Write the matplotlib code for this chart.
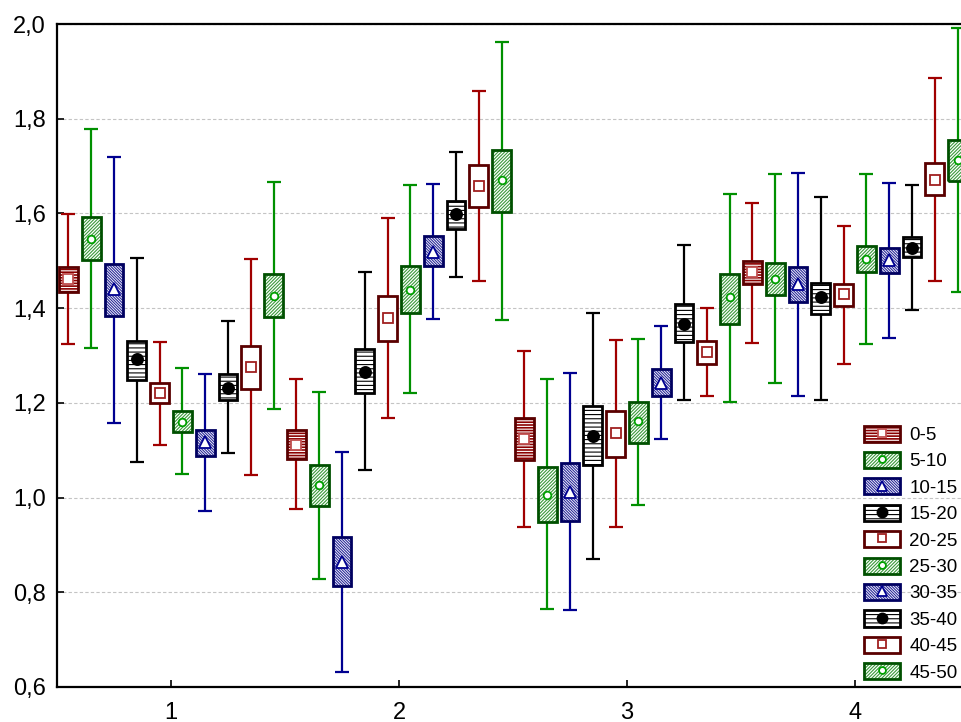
import numpy as np
import matplotlib.pyplot as plt
from matplotlib.patches import Patch
from matplotlib.lines import Line2D
from matplotlib.legend_handler import HandlerTuple
from matplotlib.ticker import FuncFormatter

plt.rcParams['font.family'] = ['Liberation Sans', 'DejaVu Sans']
plt.rcParams['hatch.linewidth'] = 0.8

# data
groups = [1, 2, 3, 4]
series = ['0-5', '5-10', '10-15', '15-20', '20-25',
          '25-30', '30-35', '35-40', '40-45', '45-50']

means = [
    [1.461, 1.111, 1.123, 1.477],
    [1.547, 1.026, 1.005, 1.461],
    [1.440, 0.864, 1.012, 1.450],
    [1.292, 1.266, 1.131, 1.423],
    [1.221, 1.380, 1.136, 1.430],
    [1.160, 1.438, 1.162, 1.503],
    [1.117, 1.519, 1.241, 1.502],
    [1.232, 1.599, 1.367, 1.528],
    [1.275, 1.658, 1.308, 1.671],
    [1.426, 1.671, 1.423, 1.713],
]
box_hi = [
    [1.487, 1.143, 1.169, 1.499],
    [1.593, 1.069, 1.065, 1.496],
    [1.493, 0.916, 1.074, 1.487],
    [1.331, 1.314, 1.194, 1.454],
    [1.242, 1.426, 1.183, 1.452],
    [1.183, 1.489, 1.202, 1.531],
    [1.143, 1.552, 1.272, 1.528],
    [1.260, 1.627, 1.409, 1.550],
    [1.321, 1.703, 1.330, 1.706],
    [1.473, 1.734, 1.473, 1.756],
]
box_lo = [
    [1.434, 1.081, 1.079, 1.451],
    [1.502, 0.982, 0.948, 1.427],
    [1.384, 0.813, 0.951, 1.414],
    [1.248, 1.220, 1.069, 1.387],
    [1.200, 1.331, 1.086, 1.405],
    [1.138, 1.390, 1.116, 1.476],
    [1.088, 1.490, 1.214, 1.475],
    [1.206, 1.567, 1.329, 1.507],
    [1.230, 1.614, 1.283, 1.638],
    [1.382, 1.603, 1.367, 1.669],
]
wh_hi = [
    [1.598, 1.250, 1.310, 1.623],
    [1.778, 1.222, 1.250, 1.683],
    [1.719, 1.096, 1.264, 1.686],
    [1.505, 1.476, 1.390, 1.635],
    [1.329, 1.590, 1.333, 1.573],
    [1.274, 1.660, 1.335, 1.683],
    [1.260, 1.662, 1.363, 1.665],
    [1.373, 1.730, 1.533, 1.659],
    [1.504, 1.859, 1.400, 1.886],
    [1.667, 1.961, 1.640, 1.992],
]
wh_lo = [
    [1.324, 0.975, 0.938, 1.327],
    [1.316, 0.829, 0.764, 1.242],
    [1.157, 0.632, 0.762, 1.215],
    [1.075, 1.058, 0.871, 1.206],
    [1.112, 1.167, 0.938, 1.283],
    [1.050, 1.220, 0.984, 1.325],
    [0.972, 1.378, 1.123, 1.337],
    [1.095, 1.466, 1.206, 1.397],
    [1.048, 1.457, 1.214, 1.458],
    [1.188, 1.375, 1.201, 1.434],
]

# styles per kind of box
styles = {
    'red':   dict(lc='#a00000', ec='#5a0000', fc='#8b0000', hc='white', hatch='-' * 6,
                  mk='s', mfc='white', mec='#c05050', ms=7),
    'green': dict(lc='#009000', ec='#005000', fc='white', hc='#3a9a3a', hatch='/' * 10,
                  mk='o', mfc='white', mec='#00a000', ms=5.5),
    'blue':  dict(lc='#000090', ec='#000060', fc='white', hc='#2a2a9a', hatch='\\' * 12,
                  mk='^', mfc='white', mec='#000090', ms=8),
    'black': dict(lc='black', ec='black', fc='white', hc='black', hatch='----',
                  mk='o', mfc='black', mec='black', ms=8),
    'empty': dict(lc='#a00000', ec='#5a0000', fc='white', hc='white', hatch=None,
                  mk='s', mfc='white', mec='#a02020', ms=7),
}
kinds = ['red'] + ['green', 'blue', 'black', 'empty'] * 2 + ['green']

fig = plt.figure(figsize=(9.62, 7.22), dpi=100)
ax = fig.add_axes([57 / 962, 35 / 722, 912 / 962, 663 / 722])

box_w = 0.083
cap_w = 0.062
x0 = np.array(groups, dtype=float)
handles = []
for i, name in enumerate(series):
    st = styles[kinds[i]]
    xs = x0 - 0.45 + 0.1 * i
    lo = np.array(box_lo[i])
    hi = np.array(box_hi[i])
    ax.vlines(xs, wh_lo[i], wh_hi[i], color=st['lc'], lw=1.6, zorder=2)
    ax.hlines(wh_lo[i], xs - cap_w / 2, xs + cap_w / 2, color=st['lc'], lw=1.6, zorder=2)
    ax.hlines(wh_hi[i], xs - cap_w / 2, xs + cap_w / 2, color=st['lc'], lw=1.6, zorder=2)
    ax.bar(xs, hi - lo, bottom=lo, width=box_w, color=st['fc'], edgecolor=st['hc'],
           hatch=st['hatch'], linewidth=0, zorder=3)
    ax.bar(xs, hi - lo, bottom=lo, width=box_w, fill=False, edgecolor=st['ec'],
           linewidth=2.0, zorder=3.5)
    ax.plot(xs, means[i], ls='none', marker=st['mk'], mfc=st['mfc'], mec=st['mec'],
            ms=st['ms'], mew=1.3, zorder=4)
    h1 = Patch(facecolor=st['fc'], edgecolor=st['hc'], hatch=st['hatch'], linewidth=0)
    h2 = Patch(fill=False, edgecolor=st['ec'], linewidth=2.0)
    h3 = Line2D([], [], ls='none', marker=st['mk'], mfc=st['mfc'], mec=st['mec'],
                ms=st['ms'] * 0.9, mew=1.3)
    handles.append((h1, h2, h3))

ax.set_xlim(0.5, 4.5)
ax.set_ylim(0.6, 2.0)
ax.set_xticks(groups)
ax.set_yticks(np.arange(0.6, 2.01, 0.2))
ax.yaxis.set_major_formatter(FuncFormatter(lambda v, p: f'{v:.1f}'.replace('.', ',')))
ax.tick_params(direction='in', length=5, width=1.2, labelsize=17)
ax.tick_params(axis='x', pad=11)
ax.tick_params(axis='y', pad=8)
for s in ax.spines.values():
    s.set_linewidth(1.6)
ax.yaxis.grid(True, color='#c4c4c4', lw=0.8, ls=(0, (3, 2)))
ax.set_axisbelow(True)

ax.legend(handles, series, handler_map={tuple: HandlerTuple(ndivide=1, pad=0)},
          loc='lower left', bbox_to_anchor=(0.885, 0.008), frameon=False,
          fontsize=13.5, handlelength=1.92, handleheight=0.95, handletextpad=0.5,
          labelspacing=0.42, borderpad=0, borderaxespad=0)

fig.savefig('out.png', dpi=100)
